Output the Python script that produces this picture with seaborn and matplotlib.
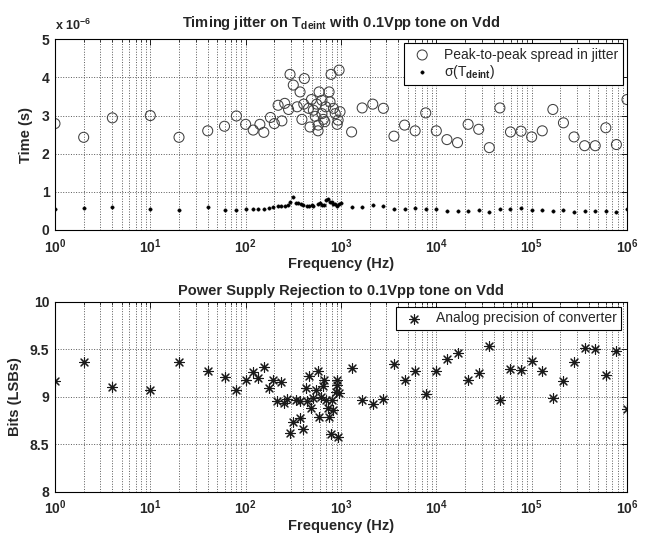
import numpy as np
import pandas as pd
import matplotlib
matplotlib.use("Agg")
import matplotlib.pyplot as plt
from matplotlib.ticker import FixedFormatter, LogLocator, NullFormatter
import seaborn as sns

# ---------------- data ----------------
SCALE = 1e-6  # seconds per unit of the jitter lists

# peak-to-peak spread in jitter (units of 1e-6 s)
pp_freq = [1, 2, 4, 10, 20, 40, 60, 80, 100,
           120, 141, 155, 182, 200, 219, 240, 257, 282, 292, 316, 347, 372,
           389, 407, 413, 457, 473, 490, 513, 537, 556, 575, 578, 589, 631,
           631, 653, 676, 692, 750, 767, 787, 832, 871, 912, 933, 955, 977,
           1292, 1668, 2154, 2783, 3594, 4642, 5995, 7743, 10000, 12915,
           16681, 21544, 27826, 35938, 46416, 59948, 77426, 100000, 129155,
           166810, 215443, 278256, 359381, 464159, 599484, 774264, 1000000]
pp_val = [2.79, 2.43, 2.94, 3.00, 2.43, 2.60, 2.72, 2.99, 2.77,
          2.62, 2.77, 2.56, 2.95, 2.79, 3.27, 2.86, 3.32, 3.16, 4.08, 3.80,
          3.23, 3.62, 2.90, 3.30, 3.97, 3.19, 2.70, 3.42, 3.14, 2.98, 3.30,
          2.60, 2.75, 3.62, 3.40, 3.05, 2.90, 2.84, 3.23, 3.62, 3.36, 4.08,
          3.19, 3.05, 2.77, 2.88, 4.19, 3.10,
          2.57, 3.20, 3.30, 3.19, 2.46, 2.75, 2.60, 3.07, 2.60, 2.37, 2.29,
          2.77, 2.64, 2.16, 3.20, 2.57, 2.59, 2.44, 2.60, 3.16, 2.81, 2.44,
          2.21, 2.21, 2.68, 2.24, 3.42]

# sigma(T_deint) (units of 1e-6 s)
sd_freq = [1, 2, 4, 10, 20, 40, 60, 80, 100,
           119, 135, 155, 176, 195, 218, 235, 258, 280, 292, 316, 336, 357,
           378, 403, 437, 462, 493, 513, 578, 603, 628, 665, 695, 737, 767,
           800, 832, 867, 915, 957, 1000,
           1292, 1668, 2154, 2783, 3594, 4642, 5995, 7743, 10000, 12915,
           16681, 21544, 27826, 35938, 46416, 59948, 77426, 100000, 129155,
           166810, 215443, 278256, 359381, 464159, 599484, 774264, 1000000]
sd_val = [0.55, 0.57, 0.59, 0.56, 0.52, 0.59, 0.53, 0.53, 0.56,
          0.56, 0.55, 0.55, 0.57, 0.59, 0.63, 0.62, 0.62, 0.66, 0.74, 0.86,
          0.71, 0.70, 0.68, 0.66, 0.63, 0.62, 0.66, 0.63, 0.69, 0.70, 0.66,
          0.65, 0.78, 0.80, 0.74, 0.73, 0.69, 0.67, 0.63, 0.69, 0.70,
          0.59, 0.59, 0.65, 0.63, 0.54, 0.56, 0.58, 0.56, 0.56, 0.49, 0.51,
          0.51, 0.52, 0.46, 0.55, 0.54, 0.57, 0.52, 0.52, 0.49, 0.52, 0.47,
          0.49, 0.49, 0.49, 0.46, 0.54]

# analog precision of converter (bits)
ap_freq = [1, 2, 4, 10, 20, 40, 60, 80, 100,
           119, 136, 156, 177, 195, 215, 235, 255, 274, 292, 312, 338, 372,
           372, 403, 430, 444, 466, 482, 506, 544, 571, 593, 618, 644, 665,
           698, 727, 750, 787, 800, 832, 889, 916, 916, 939, 962,
           1292, 1668, 2154, 2783, 3594, 4642, 5995, 7743, 10000, 12915,
           16681, 21544, 27826, 35938, 46416, 59948, 77426, 100000, 129155,
           166810, 215443, 278256, 359381, 464159, 599484, 774264, 1000000]
ap_val = [9.17, 9.37, 9.10, 9.07, 9.37, 9.27, 9.21, 9.07, 9.18,
          9.26, 9.20, 9.31, 9.09, 9.18, 8.95, 9.15, 8.93, 8.98, 8.62, 8.73,
          8.96, 8.95, 8.78, 8.66, 9.09, 8.95, 9.22, 8.88, 8.99, 9.07, 9.27,
          8.79, 9.00, 9.11, 9.18, 8.96, 8.88, 8.79, 8.61, 8.97, 8.86, 9.05,
          9.18, 9.12, 8.58, 9.04,
          9.30, 8.97, 8.92, 8.98, 9.34, 9.18, 9.27, 9.03, 9.27, 9.40, 9.46,
          9.18, 9.25, 9.53, 8.97, 9.29, 9.28, 9.38, 9.27, 8.99, 9.17, 9.37,
          9.51, 9.50, 9.23, 9.48, 8.87]

x_ticks = [1e0, 1e1, 1e2, 1e3, 1e4, 1e5, 1e6]
x_ticklabels = [r"10$^{0}$", r"10$^{1}$", r"10$^{2}$", r"10$^{3}$",
                r"10$^{4}$", r"10$^{5}$", r"10$^{6}$"]
top_yticklabels = ["0", "1", "2", "3", "4", "5"]
bot_yticks = [8, 8.5, 9, 9.5, 10]
bot_yticklabels = ["8", "8.5", "9", "9.5", "10"]
top_title = r"Timing jitter on T$_{deint}$ with 0.1Vpp tone on Vdd"
bot_title = "Power Supply Rejection to 0.1Vpp tone on Vdd"
x_label = "Frequency (Hz)"
top_ylabel = "Time (s)"
bot_ylabel = "Bits (LSBs)"
exp_text = r"x 10$^{-6}$"
pp_label = "Peak-to-peak spread in jitter"
sd_label = r"σ(T$_{deint}$)"
ap_label = "Analog precision of converter"

# ---------------- style ----------------
sns.set_style("white")
plt.rcParams["font.family"] = ["Liberation Sans", "DejaVu Sans"]
plt.rcParams["mathtext.fontset"] = "custom"
plt.rcParams["mathtext.rm"] = "Liberation Sans"
plt.rcParams["mathtext.bf"] = "Liberation Sans:bold"
plt.rcParams["mathtext.it"] = "Liberation Sans:italic"
plt.rcParams["mathtext.default"] = "bf"

fig = plt.figure(figsize=(6.46, 5.33), dpi=100)
ax1 = fig.add_axes([0.0851, 0.5685, 0.8855, 0.3578])
ax2 = fig.add_axes([0.0851, 0.0775, 0.8855, 0.3565])

df_pp = pd.DataFrame({"f": pp_freq, "v": np.array(pp_val) * SCALE})
df_sd = pd.DataFrame({"f": sd_freq, "v": np.array(sd_val) * SCALE})
df_ap = pd.DataFrame({"f": ap_freq, "v": ap_val})

sns.scatterplot(data=df_pp, x="f", y="v", ax=ax1, marker="o", s=52,
                facecolor="none", edgecolor="0.25", linewidth=0.75,
                label=pp_label)
sns.scatterplot(data=df_sd, x="f", y="v", ax=ax1, marker="o", s=6,
                color="black", edgecolor="black", linewidth=0.3,
                label=sd_label)
sns.scatterplot(data=df_ap, x="f", y="v", ax=ax2, marker=(8, 2, 0), s=50,
                color="0.1", linewidth=0.8, label=ap_label)

for ax in (ax1, ax2):
    ax.set_xscale("log")
    ax.set_xlim(1, 1e6)
    ax.set_xticks(x_ticks)
    ax.set_xticklabels(x_ticklabels)
    ax.xaxis.set_minor_locator(LogLocator(base=10, subs=np.arange(2, 10), numticks=100))
    ax.xaxis.set_minor_formatter(NullFormatter())
    ax.grid(True, which="major", axis="both", color="0.35", linestyle=":", linewidth=0.7)
    ax.grid(True, which="minor", axis="x", color="0.35", linestyle=":", linewidth=0.7)
    ax.tick_params(which="both", direction="in", top=True, right=True,
                   labelsize=10, color="black")
    ax.tick_params(which="major", length=4, width=0.6, pad=4)
    ax.tick_params(axis="x", which="major", pad=5)
    ax.tick_params(which="minor", length=2, width=0.5)
    for sp in ax.spines.values():
        sp.set_color("black")
        sp.set_linewidth(0.8)
    ax.set_xlabel(x_label, fontsize=10.5, fontweight="bold", labelpad=1)

ax1.set_ylim(0, 5 * SCALE)
ax1.set_yticks([i * SCALE for i in range(6)])
ax1.yaxis.set_major_formatter(FixedFormatter(top_yticklabels))
ax1.text(0.0, 1.035, exp_text, transform=ax1.transAxes, ha="left",
         va="bottom", fontsize=9, fontweight="bold")
ax1.set_title(top_title, fontsize=10.5, fontweight="bold", pad=9)
ax1.set_ylabel(top_ylabel, fontsize=10.5, fontweight="bold", labelpad=6)

ax2.set_ylim(8, 10)
ax2.set_yticks(bot_yticks)
ax2.set_yticklabels(bot_yticklabels)
ax2.set_title(bot_title, fontsize=10.5, fontweight="bold", pad=5)
ax2.set_ylabel(bot_ylabel, fontsize=10.5, fontweight="bold", labelpad=6)

for ax in (ax1, ax2):
    for lab in ax.get_yticklabels() + ax.get_xticklabels():
        lab.set_fontweight("bold")

leg1 = ax1.legend(loc="upper right", fontsize=10, frameon=True, fancybox=False,
                  framealpha=1, edgecolor="black", borderaxespad=0.3,
                  handletextpad=0.6, labelspacing=0.1, borderpad=0.3)
leg1.get_frame().set_linewidth(0.8)
leg2 = ax2.legend(loc="upper right", fontsize=10, frameon=True, fancybox=False,
                  framealpha=1, edgecolor="black", borderaxespad=0.4,
                  handletextpad=0.6, borderpad=0.3)
leg2.get_frame().set_linewidth(0.8)

fig.savefig("out.png", dpi=100, facecolor="white")
